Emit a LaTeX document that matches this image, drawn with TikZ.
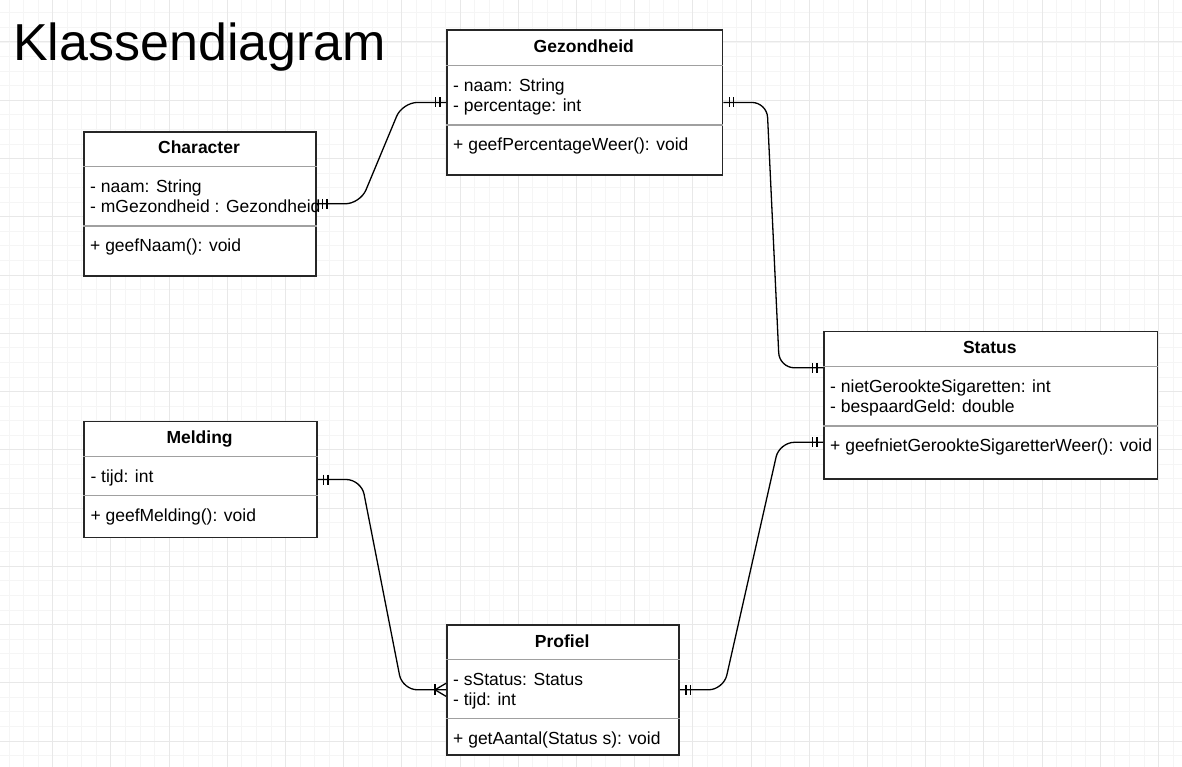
\documentclass[tikz,border=0pt]{standalone}
\usepackage{fontspec}
\setmainfont{Liberation Sans}
\definecolor{gridminor}{HTML}{F5F5F5}
\definecolor{gridmajor}{HTML}{E8E8E8}
\definecolor{sepgray}{HTML}{A0A0A0}
\newcommand\erbars[2]{%
  \draw[conn] ([xshift=#2*6pt,yshift=5pt]#1) -- ([xshift=#2*6pt,yshift=-5pt]#1);
  \draw[conn] ([xshift=#2*10.5pt,yshift=5pt]#1) -- ([xshift=#2*10.5pt,yshift=-5pt]#1);}
\tikzset{
  classbox/.style={draw=black!85, line width=1.6pt, fill=white, inner sep=0pt, anchor=north west},
  sepline/.style={draw=sepgray, line width=1.4pt},
  hdr/.style={font=\fontsize{17.5}{20}\selectfont\bfseries, inner sep=0pt, anchor=base},
  txt/.style={font=\fontsize{17.5}{20}\selectfont, inner sep=0pt, anchor=base west},
  conn/.style={draw=black, line width=1.3pt},
  erpath/.style={conn, rounded corners=15pt},
}
\begin{document}
\begin{tikzpicture}[x=1pt,y=-1pt]
\useasboundingbox (0,0) rectangle (1182,767);
\fill[white] (0,0) rectangle (1182,767);
% grid
\foreach \i in {0,...,80} \draw[gridminor, line width=0.9pt] ({9.05+14.55*\i},0) -- ({9.05+14.55*\i},767);
\foreach \i in {0,...,51} \draw[gridminor, line width=0.9pt] (0,{12.9+14.5625*\i}) -- (1182,{12.9+14.5625*\i});
\foreach \i in {0,...,19} \draw[gridmajor, line width=1pt] ({52.7+58.2*\i},0) -- ({52.7+58.2*\i},767);
\foreach \i in {0,...,12} \draw[gridmajor, line width=1pt] (0,{42+58.25*\i}) -- (1182,{42+58.25*\i});

% title
\node[font=\fontsize{52}{60}\selectfont, inner sep=0pt, anchor=base west] (title) at (13,61) {Klassendiagram};

% Character
\node[classbox, minimum width=232pt, minimum height=144pt] (char) at (83,131) {};
\draw[sepline] ([yshift=-35.5pt]char.north west) -- ([yshift=-35.5pt]char.north east);
\draw[sepline] ([yshift=-95pt]char.north west) -- ([yshift=-95pt]char.north east);
\node[hdr] (charT) at (199,154) {Character};
\node[txt] (charA1) at (90,192.5) {- naam: String};
\node[txt] (charA2) at (90,212.5) {- mGezondheid : Gezondheid};
\node[txt] (charM1) at (90,251.3) {+ geefNaam(): void};

% Gezondheid
\node[classbox, minimum width=275.7pt, minimum height=144.7pt] (gez) at (446,29.3) {};
\draw[sepline] ([yshift=-36.4pt]gez.north west) -- ([yshift=-36.4pt]gez.north east);
\draw[sepline] ([yshift=-95.7pt]gez.north west) -- ([yshift=-95.7pt]gez.north east);
\node[hdr] (gezT) at (583.8,52.5) {Gezondheid};
\node[txt] (gezA1) at (453,91.7) {- naam: String};
\node[txt] (gezA2) at (453,111.7) {- percentage: int};
\node[txt] (gezM1) at (453,150.7) {+ geefPercentageWeer(): void};

% Status
\node[classbox, minimum width=333.7pt, minimum height=147.6pt] (stat) at (823,330.7) {};
\draw[sepline] ([yshift=-36pt]stat.north west) -- ([yshift=-36pt]stat.north east);
\draw[sepline] ([yshift=-95.3pt]stat.north west) -- ([yshift=-95.3pt]stat.north east);
\node[hdr] (statT) at (989.8,353.5) {Status};
\node[txt] (statA1) at (830,392.3) {- nietGerookteSigaretten: int};
\node[txt] (statA2) at (830,412.3) {- bespaardGeld: double};
\node[txt] (statM1) at (830,451.5) {+ geefnietGerookteSigaretterWeer(): void};

% Melding
\node[classbox, minimum width=232.7pt, minimum height=116pt] (meld) at (83.3,420.7) {};
\draw[sepline] ([yshift=-36pt]meld.north west) -- ([yshift=-36pt]meld.north east);
\draw[sepline] ([yshift=-75pt]meld.north west) -- ([yshift=-75pt]meld.north east);
\node[hdr] (meldT) at (199.6,443.5) {Melding};
\node[txt] (meldA1) at (90.3,482.3) {- tijd: int};
\node[txt] (meldM1) at (90.3,521.5) {+ geefMelding(): void};

% Profiel
\node[classbox, minimum width=232.3pt, minimum height=130pt] (prof) at (446,624) {};
\draw[sepline] ([yshift=-35.3pt]prof.north west) -- ([yshift=-35.3pt]prof.north east);
\draw[sepline] ([yshift=-94.3pt]prof.north west) -- ([yshift=-94.3pt]prof.north east);
\node[hdr] (profT) at (562.2,647) {Profiel};
\node[txt] (profA1) at (453,685.7) {- sStatus: Status};
\node[txt] (profA2) at (453,705.7) {- tijd: int};
\node[txt] (profM1) at (453,744) {+ getAantal(Status s): void};

% ports on Status
\coordinate (statA) at ([yshift=37.5pt]stat.west);
\coordinate (statB) at ([yshift=-37pt]stat.west);

% connectors
\draw[erpath] (char.east) -- ([xshift=43.6pt]char.east) -- ([xshift=-43.6pt]gez.west) -- (gez.west);
\erbars{char.east}{1}
\erbars{gez.west}{-1}

\draw[erpath] (gez.east) -- ([xshift=43.6pt]gez.east) -- ([xshift=-43.6pt]statA) -- (statA);
\erbars{gez.east}{1}
\erbars{statA}{-1}

\draw[erpath] (meld.east) -- ([xshift=43.6pt]meld.east) -- ([xshift=-43.6pt]prof.west) -- (prof.west);
\erbars{meld.east}{1}
\draw[conn] ([xshift=-11pt,yshift=5.5pt]prof.west) -- ([xshift=-11pt,yshift=-5.5pt]prof.west);
\draw[conn] ([xshift=-11pt]prof.west) -- ([yshift=6.5pt]prof.west);
\draw[conn] ([xshift=-11pt]prof.west) -- ([yshift=-6.5pt]prof.west);

\draw[erpath] (prof.east) -- ([xshift=43.6pt]prof.east) -- ([xshift=-43.6pt]statB) -- (statB);
\erbars{prof.east}{1}
\erbars{statB}{-1}
\end{tikzpicture}
\end{document}
